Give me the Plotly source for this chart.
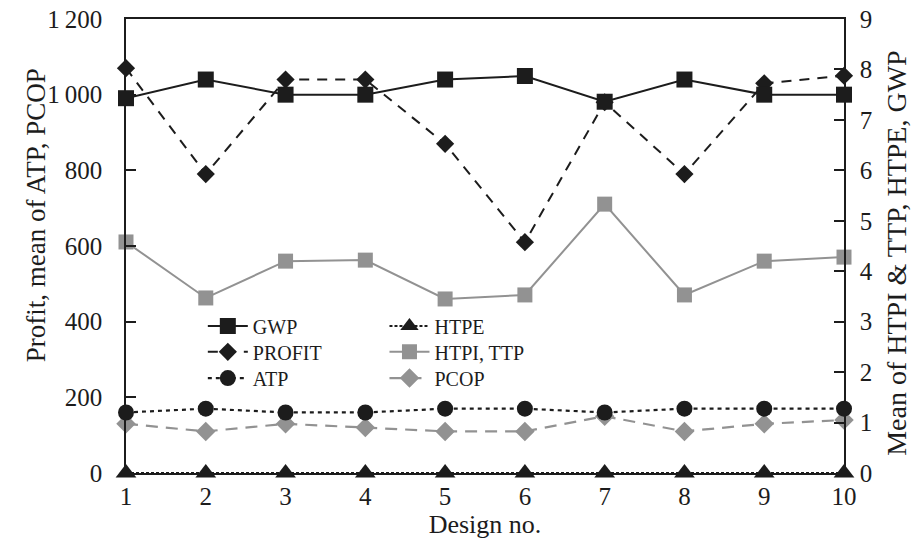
import plotly.graph_objects as go

design = [1, 2, 3, 4, 5, 6, 7, 8, 9, 10]

# left axis series (Profit, mean of ATP, PCOP)
profit = [1070, 790, 1040, 1040, 870, 610, 980, 790, 1030, 1050]
atp = [160, 170, 160, 160, 170, 170, 160, 170, 170, 170]
pcop = [130, 110, 130, 120, 110, 110, 150, 110, 130, 140]

# right axis series (Mean of HTPI & TTP, HTPE, GWP)
gwp = [7.43, 7.8, 7.5, 7.5, 7.8, 7.87, 7.36, 7.8, 7.5, 7.5]
htpi_ttp = [4.58, 3.47, 4.2, 4.22, 3.45, 3.53, 5.33, 3.53, 4.2, 4.28]
htpe = [0, 0, 0, 0, 0, 0, 0, 0, 0, 0]

left_ticks = [0, 200, 400, 600, 800, 1000, 1200]
left_ticktext = ["0", "200", "400", "600", "800", "1\u2009000", "1\u2009200"]
right_ticks = [0, 1, 2, 3, 4, 5, 6, 7, 8, 9]

x_title = "Design no."
left_title = "Profit, mean of ATP, PCOP"
right_title = "Mean of HTPI &amp; TTP, HTPE, GWP"

BLACK = "#1c1c1c"
GRAY = "#929292"
FONT = "Liberation Serif"

fig = go.Figure()

fig.add_trace(go.Scatter(
    x=design, y=htpe, name="HTPE", yaxis="y2", legend="legend4",
    mode="lines+markers", cliponaxis=False,
    line=dict(color=BLACK, width=2, dash="3px,2px"),
    marker=dict(symbol="triangle-up", size=18, color=BLACK)))

fig.add_trace(go.Scatter(
    x=design, y=pcop, name="PCOP", legend="legend6",
    mode="lines+markers", cliponaxis=False,
    line=dict(color=GRAY, width=2.2, dash="12px,8px"),
    marker=dict(symbol="diamond", size=15, color=GRAY)))

fig.add_trace(go.Scatter(
    x=design, y=atp, name="ATP", legend="legend3",
    mode="lines+markers", cliponaxis=False,
    line=dict(color=BLACK, width=2.2, dash="4px,4px"),
    marker=dict(symbol="circle", size=16, color=BLACK)))

fig.add_trace(go.Scatter(
    x=design, y=htpi_ttp, name="HTPI, TTP", yaxis="y2", legend="legend5",
    mode="lines+markers", cliponaxis=False,
    line=dict(color=GRAY, width=2),
    marker=dict(symbol="square", size=15, color=GRAY)))

fig.add_trace(go.Scatter(
    x=design, y=profit, name="PROFIT", legend="legend2",
    mode="lines+markers", cliponaxis=False,
    line=dict(color=BLACK, width=2, dash="10px,8px"),
    marker=dict(symbol="diamond", size=14, color=BLACK)))

fig.add_trace(go.Scatter(
    x=design, y=gwp, name="GWP", yaxis="y2", legend="legend",
    mode="lines+markers", cliponaxis=False,
    line=dict(color=BLACK, width=2),
    marker=dict(symbol="square", size=16, color=BLACK)))

legend_common = dict(
    font=dict(family=FONT, size=20, color=BLACK),
    bgcolor="rgba(0,0,0,0)", xanchor="left", yanchor="middle",
    itemwidth=40,
)

col1, col2 = 0.107, 0.36
row1, row2, row3 = 0.324, 0.267, 0.209

fig.update_layout(
    width=920, height=556,
    margin=dict(l=126, r=76, t=19, b=83, autoexpand=False),
    paper_bgcolor="white", plot_bgcolor="white",
    font=dict(family=FONT, size=25, color=BLACK),
    xaxis=dict(
        range=[1, 10], tickvals=design, showgrid=False, zeroline=False,
        showline=True, linecolor=BLACK, linewidth=1.5, mirror=True,
        ticks="", tickfont=dict(family=FONT, size=25), automargin=False,
        ticklabeloverflow="allow",
        title=dict(text=x_title, font=dict(family=FONT, size=26), standoff=2),
    ),
    yaxis=dict(
        range=[0, 1200], tickvals=left_ticks, ticktext=left_ticktext,
        showgrid=False, zeroline=False, showline=True, linecolor=BLACK,
        linewidth=1.5, ticks="inside", ticklen=10, tickcolor=BLACK,
        tickwidth=1.5, ticklabelstandoff=17, tickfont=dict(family=FONT, size=25),
        automargin=False, ticklabeloverflow="allow",
    ),
    yaxis2=dict(
        range=[0, 9], tickvals=right_ticks, overlaying="y", side="right",
        showgrid=False, zeroline=False, showline=True, linecolor=BLACK,
        linewidth=1.5, ticks="inside", ticklen=10, tickcolor=BLACK,
        tickwidth=1.5, ticklabelstandoff=9, tickfont=dict(family=FONT, size=25),
        automargin=False, ticklabeloverflow="allow",
    ),
    legend=dict(x=col1, y=row1, **legend_common),
    legend2=dict(x=col1, y=row2, **legend_common),
    legend3=dict(x=col1, y=row3, **legend_common),
    legend4=dict(x=col2, y=row1, **legend_common),
    legend5=dict(x=col2, y=row2, **legend_common),
    legend6=dict(x=col2, y=row3, **legend_common),
    showlegend=True,
)

fig.add_annotation(text=left_title, xref="paper", yref="paper", x=-0.1253, y=0.568,
                   xanchor="center", yanchor="middle", textangle=-90, showarrow=False,
                   font=dict(family=FONT, size=27, color=BLACK))
fig.add_annotation(text=right_title, xref="paper", yref="paper", x=1.0738, y=0.485,
                   xanchor="center", yanchor="middle", textangle=-90, showarrow=False,
                   font=dict(family=FONT, size=28, color=BLACK))

fig.write_html("out.html", config={"displayModeBar": False},
               post_script="document.body.style.margin='0';")
